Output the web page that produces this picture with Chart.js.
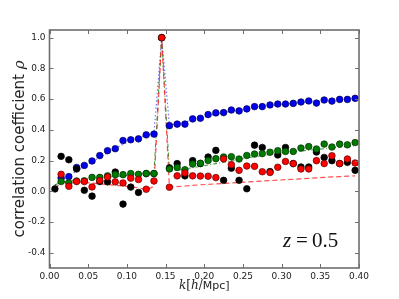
<!DOCTYPE html>
<html><head><meta charset="utf-8">
<script src="https://cdn.jsdelivr.net/npm/chart.js@4.4.0/dist/chart.umd.min.js"></script>
<style>html,body{margin:0;padding:0;background:#fff}#wrap{width:399px;height:299px}</style>
</head><body><div id="wrap"><canvas id="c" width="399" height="299"></canvas></div>
<script>
const kValues = [0.007,0.015,0.025,0.035,0.045,0.055,0.065,0.075,0.085,0.095,
  0.105,0.115,0.125,0.135,0.145,0.155,0.165,0.175,0.185,0.195,
  0.205,0.215,0.225,0.235,0.245,0.255,0.265,0.275,0.285,0.295,
  0.305,0.315,0.325,0.335,0.345,0.355,0.365,0.375,0.385,0.395];

const bluePoints = [null,0.087,0.095,0.155,0.168,0.197,0.232,0.264,0.277,0.330,
  0.335,0.341,0.367,0.372,1.0,0.427,0.437,0.437,0.471,0.475,
  0.499,0.510,0.512,0.529,0.523,0.536,0.551,0.551,0.562,0.568,
  0.568,0.572,0.581,0.588,0.574,0.594,0.587,0.598,0.598,0.605];

const greenPoints = [null,0.063,0.054,0.067,0.068,0.090,0.090,0.100,0.108,0.108,
  0.115,0.110,0.115,0.115,1.0,0.145,0.155,0.140,0.177,0.182,
  0.200,0.212,0.223,0.225,0.210,0.233,0.242,0.245,0.254,0.264,
  0.259,0.259,0.281,0.291,0.275,0.307,0.288,0.307,0.302,0.317];

const redPoints = [null,0.110,0.032,0.063,0.063,0.028,0.069,0.093,0.061,0.054,
  0.085,0.076,0.013,0.067,1.0,0.026,0.100,0.119,0.100,0.099,
  0.098,0.089,0.210,0.173,0.136,0.164,0.162,0.127,0.122,0.156,
  0.194,0.180,0.145,0.145,0.199,0.180,0.231,0.180,0.210,0.184];

const blackPoints = [0.015,0.227,0.205,0.145,0.006,-0.032,0.063,0.061,0.125,-0.084,
  0.027,-0.008,0.115,0.115,1.0,0.152,0.180,0.100,0.199,0.180,
  0.223,0.266,0.071,0.150,0.071,0.016,0.300,0.285,0.128,0.236,
  0.285,0.180,0.158,0.158,0.255,0.220,0.199,0.180,0.188,0.136];

const blueModel = [0.040,0.070,0.100,0.130,0.160,0.190,0.220,0.250,0.280,0.305,
  0.330,0.350,0.365,0.375,1.0,0.430,0.440,0.450,0.465,0.478,
  0.492,0.503,0.513,0.522,0.530,0.537,0.544,0.550,0.556,0.562,
  0.567,0.572,0.577,0.581,0.585,0.589,0.593,0.596,0.599,0.602];

const greenModel = [0.040,0.060,0.068,0.074,0.079,0.084,0.088,0.092,0.096,0.100,
  0.104,0.108,0.112,0.118,1.0,0.130,0.137,0.145,0.153,0.162,
  0.171,0.180,0.190,0.200,0.208,0.216,0.225,0.232,0.240,0.246,
  0.252,0.257,0.262,0.267,0.272,0.277,0.282,0.287,0.292,0.297];

const redModel = [0.020,0.055,0.060,0.060,0.057,0.053,0.048,0.044,0.039,0.034,
  0.028,0.022,0.010,0.030,1.0,0.027,0.030,0.034,0.038,0.042,
  0.045,0.048,0.051,0.054,0.057,0.060,0.063,0.066,0.069,0.072,
  0.075,0.078,0.081,0.084,0.087,0.090,0.093,0.095,0.098,0.100];

const xTicks = [0.00,0.05,0.10,0.15,0.20,0.25,0.30,0.35,0.40];
const yTicks = [-0.4,-0.2,0.0,0.2,0.4,0.6,0.8,1.0];

function pts(arr){ return kValues.map((k,i)=>({x:k,y:arr[i]})).filter(p=>p.y!==null); }

function pointSet(arr, fill, edge){
  return {data:pts(arr), showLine:false, pointRadius:3.3, pointHoverRadius:3.3,
    pointBackgroundColor:fill, pointBorderColor:edge, pointBorderWidth:0.7,
    backgroundColor:fill, borderColor:edge};
}
function lineSet(arr, color, dash, w){
  return {data:pts(arr), showLine:true, pointRadius:0, borderColor:color,
    borderWidth:w, borderDash:dash, tension:0, fill:false,
    borderJoinStyle:'round', borderCapStyle:'butt'};
}

const tickFont = {family:'"DejaVu Sans", sans-serif', size:9};

const decor = {
  id:'decor',
  afterDraw(chart){
    const {ctx, chartArea:a, scales:{x,y}} = chart;
    ctx.save();
    ctx.strokeStyle = '#6e6e6e';
    ctx.lineWidth = 1;
    ctx.beginPath();
    xTicks.forEach(v=>{
      const px = Math.round(x.getPixelForValue(v))+0.5;
      ctx.moveTo(px,a.bottom); ctx.lineTo(px,a.bottom-4);
      ctx.moveTo(px,a.top); ctx.lineTo(px,a.top+4);
    });
    yTicks.forEach(v=>{
      const py = Math.round(y.getPixelForValue(v))+0.5;
      ctx.moveTo(a.left,py); ctx.lineTo(a.left+4,py);
      ctx.moveTo(a.right,py); ctx.lineTo(a.right-4,py);
    });
    ctx.stroke();
    ctx.lineWidth = 1.6;
    ctx.strokeRect(a.left, a.top, a.right-a.left, a.bottom-a.top);

    // x axis title: k[h/Mpc]
    ctx.fillStyle = '#222';
    ctx.textBaseline = 'alphabetic';
    const parts = [
      ['k','italic 12px "DejaVu Serif", serif'],
      ['[','12px "DejaVu Serif", serif'],
      ['h','italic 12px "DejaVu Serif", serif'],
      ['/','12px "DejaVu Serif", serif'],
      ['Mpc]','11px "DejaVu Sans", sans-serif']
    ];
    let total = 0;
    parts.forEach(p=>{ctx.font=p[1]; total += ctx.measureText(p[0]).width;});
    let cx = (a.left+a.right)/2 - total/2;
    const by = a.bottom + 21;
    parts.forEach(p=>{ctx.font=p[1]; ctx.fillText(p[0], cx, by); cx += ctx.measureText(p[0]).width;});

    // y axis title
    ctx.save();
    ctx.translate(20, (a.top+a.bottom)/2);
    ctx.rotate(-Math.PI/2);
    const yp = [
      ['correlation coefficient ','15px "DejaVu Sans", sans-serif'],
      ['\u03C1','italic 15px "DejaVu Serif", serif']
    ];
    let yt = 0;
    yp.forEach(p=>{ctx.font=p[1]; yt += ctx.measureText(p[0]).width;});
    let yx = -yt/2;
    ctx.textBaseline = 'middle';
    yp.forEach(p=>{ctx.font=p[1]; ctx.fillText(p[0], yx, 0); yx += ctx.measureText(p[0]).width;});
    ctx.restore();

    // annotation z = 0.5
    ctx.fillStyle = '#111';
    ctx.textBaseline = 'alphabetic';
    const zx = a.right - 76, zy = a.bottom - 21;
    ctx.font = 'italic 21px "Liberation Serif", serif';
    ctx.fillText('z', zx, zy);
    ctx.font = '21px "Liberation Serif", serif';
    ctx.fillText('=', zx+13, zy);
    ctx.fillText('0.5', zx+29, zy);
    ctx.restore();
  }
};

new Chart(document.getElementById('c'), {
  type:'scatter',
  data:{datasets:[
    pointSet(redPoints,'#ff0000','#5a0000'),
    pointSet(greenPoints,'#007a00','#003000'),
    pointSet(blackPoints,'#000000','#000000'),
    pointSet(bluePoints,'#0000ee','#000050'),
    lineSet(redModel,'rgba(255,20,20,0.75)',[5,3],1.2),
    lineSet(greenModel,'rgba(0,128,0,0.75)',[4,2,1,2],1.1),
    lineSet(blueModel,'rgba(40,40,255,0.65)',[1.5,2.2],1.2)
  ]},
  options:{
    responsive:false, animation:false, devicePixelRatio:1,
    layout:{padding:{top:30,right:40,left:0,bottom:0}},
    plugins:{legend:{display:false}, tooltip:{enabled:false}},
    scales:{
      x:{type:'linear', min:0, max:0.4,
        afterBuildTicks:s=>{s.ticks = xTicks.map(v=>({value:v}));},
        afterFit:s=>{s.height = 31;},
        grid:{display:false, drawTicks:false, tickLength:0}, border:{display:false},
        ticks:{callback:v=>v.toFixed(2), font:tickFont, color:'#222', padding:3, maxRotation:0, autoSkip:false}
      },
      y:{type:'linear', min:-0.5, max:1.05,
        afterBuildTicks:s=>{s.ticks = yTicks.map(v=>({value:v}));},
        afterFit:s=>{s.width = 49.5;},
        grid:{display:false, drawTicks:false, tickLength:0}, border:{display:false},
        ticks:{callback:v=>v.toFixed(1), font:tickFont, color:'#222', padding:4, autoSkip:false}
      }
    }
  },
  plugins:[decor]
});
</script></body></html>
